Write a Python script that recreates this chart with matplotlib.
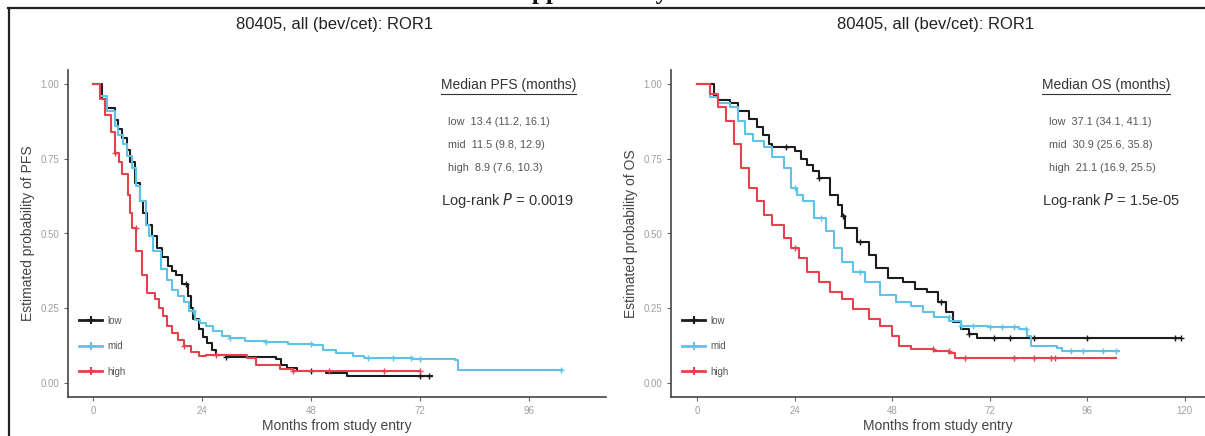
import numpy as np
import matplotlib
matplotlib.use("Agg")
import matplotlib.pyplot as plt
from matplotlib.lines import Line2D

plt.rcParams['font.family'] = ['Liberation Sans', 'DejaVu Sans']

W, H = 1205, 436

groups = ['low', 'mid', 'high']
colors = {'low': '#1c1c1c', 'mid': '#5ec4e6', 'high': '#e4424c'}

# PFS curves (months, survival)
pfs_low_t = [0, 1.9, 3.2, 4.8, 5.6, 6.5, 7.4, 8.2, 9.2, 10.3, 11.1, 12.0, 13.0, 14.1, 15.3, 16.6, 17.4, 18.3, 19.6, 20.9, 21.5, 22.1, 23.4, 24.3, 25.1, 26.2, 27.2, 29.4, 40.4, 41.5, 42.7, 45.0, 51.4, 55.9, 74.6]
pfs_low_s = [1.0, 0.95, 0.92, 0.88, 0.85, 0.82, 0.78, 0.74, 0.67, 0.61, 0.57, 0.53, 0.49, 0.45, 0.42, 0.39, 0.375, 0.36, 0.33, 0.29, 0.25, 0.214, 0.18, 0.155, 0.134, 0.11, 0.095, 0.087, 0.08, 0.06, 0.05, 0.04, 0.033, 0.023, 0.023]
pfs_mid_t = [0, 1.5, 3.1, 4.8, 5.6, 6.6, 7.6, 8.6, 9.4, 10.3, 11.6, 12.4, 13.3, 15.0, 16.2, 17.5, 18.8, 20.0, 21.2, 22.5, 23.6, 25.0, 26.5, 28.4, 30.2, 33.5, 38.2, 43.0, 48.5, 50.7, 53.5, 57.3, 59.7, 70.5, 79.7, 80.5, 103.2]
pfs_mid_s = [1.0, 0.96, 0.91, 0.86, 0.83, 0.80, 0.76, 0.72, 0.66, 0.61, 0.53, 0.49, 0.44, 0.38, 0.345, 0.31, 0.29, 0.27, 0.24, 0.21, 0.20, 0.19, 0.175, 0.157, 0.15, 0.14, 0.137, 0.13, 0.127, 0.11, 0.10, 0.09, 0.085, 0.08, 0.077, 0.044, 0.044]
pfs_high_t = [0, 1.5, 2.7, 4.0, 4.8, 5.7, 6.5, 7.7, 8.2, 8.6, 9.5, 10.7, 12.0, 13.7, 14.5, 15.4, 16.4, 17.5, 18.8, 20.0, 21.6, 23.4, 25.0, 33.9, 36.0, 41.2, 44.0, 72.0]
pfs_high_s = [1.0, 0.95, 0.895, 0.84, 0.77, 0.74, 0.70, 0.63, 0.57, 0.52, 0.44, 0.36, 0.30, 0.28, 0.25, 0.224, 0.19, 0.168, 0.145, 0.124, 0.105, 0.09, 0.094, 0.083, 0.06, 0.047, 0.04, 0.04]
pfs_cens = {'low': [20.5, 29.4, 48.0, 72.0, 74.0],
            'mid': [22.0, 30.2, 38.2, 48.0, 60.6, 66.0, 70.0, 72.0, 103.0],
            'high': [4.8, 9.4, 20.0, 27.0, 44.0, 52.0, 64.0, 72.0]}

# OS curves
os_low_t = [0, 4.3, 5.2, 8.0, 10.0, 12.8, 14.7, 16.2, 17.6, 18.5, 22.3, 24.2, 25.5, 27.0, 28.5, 29.9, 32.7, 34.6, 35.6, 36.5, 39.4, 42.2, 44.1, 47.0, 50.8, 53.6, 56.5, 59.3, 61.2, 63.1, 65.0, 66.9, 68.8, 119.0]
os_low_s = [1.0, 0.96, 0.946, 0.935, 0.91, 0.884, 0.856, 0.83, 0.80, 0.79, 0.79, 0.777, 0.75, 0.73, 0.71, 0.687, 0.63, 0.597, 0.56, 0.518, 0.473, 0.428, 0.383, 0.35, 0.338, 0.315, 0.304, 0.27, 0.236, 0.203, 0.18, 0.163, 0.152, 0.152]
os_mid_t = [0, 3.3, 5.2, 8.0, 10.0, 11.9, 13.8, 16.6, 18.5, 21.3, 23.2, 24.6, 26.1, 28.9, 31.8, 33.7, 35.6, 38.4, 41.3, 45.1, 48.9, 52.7, 55.5, 58.3, 62.1, 65.0, 71.6, 79.2, 81.1, 82.1, 88.7, 89.7, 103.9]
os_mid_s = [1.0, 0.957, 0.935, 0.923, 0.878, 0.833, 0.81, 0.788, 0.755, 0.72, 0.653, 0.63, 0.608, 0.552, 0.507, 0.45, 0.405, 0.372, 0.338, 0.293, 0.27, 0.259, 0.236, 0.22, 0.208, 0.19, 0.186, 0.18, 0.158, 0.124, 0.118, 0.107, 0.107]
os_high_t = [0, 3.3, 5.2, 7.1, 9.0, 10.9, 12.8, 14.7, 16.6, 18.5, 21.3, 23.2, 25.1, 27.0, 29.9, 32.7, 35.6, 38.4, 42.2, 45.1, 47.9, 49.8, 52.7, 58.3, 62.1, 63.6, 103.0]
os_high_s = [1.0, 0.968, 0.923, 0.878, 0.80, 0.72, 0.653, 0.608, 0.563, 0.53, 0.484, 0.45, 0.417, 0.372, 0.338, 0.304, 0.28, 0.248, 0.214, 0.19, 0.158, 0.124, 0.113, 0.107, 0.10, 0.084, 0.084]
os_cens = {'low': [22.0, 30.0, 36.0, 40.0, 60.0, 67.0, 73.0, 77.0, 83.0, 96.0, 117.5, 119.0],
           'mid': [24.0, 30.5, 40.0, 62.0, 65.0, 68.0, 72.0, 75.0, 78.0, 81.0, 92.0, 95.0, 100.0, 103.0],
           'high': [24.0, 58.0, 62.0, 66.0, 78.0, 83.0, 87.0, 88.0]}

x_ticks_pfs = [0, 24, 48, 72, 96]
x_ticks_os = [0, 24, 48, 72, 96, 120]
y_ticks = [0.0, 0.25, 0.5, 0.75, 1.0]

title = '80405, all (bev/cet): ROR1'
pfs_rows = ['low  13.4 (11.2, 16.1)', 'mid  11.5 (9.8, 12.9)', 'high  8.9 (7.6, 10.3)']
os_rows = ['low  37.1 (34.1, 41.1)', 'mid  30.9 (25.6, 35.8)', 'high  21.1 (16.9, 25.5)']


def fx(x):
    return x / W


def fy(y):
    return 1 - y / H


def km(ax, t, s, cens, color):
    t = np.asarray(t)
    s = np.asarray(s)
    ax.step(t, s, where='post', color=color, lw=1.5)
    c = np.asarray(cens)
    idx = np.searchsorted(t, c, side='right') - 1
    ax.plot(c, s[idx], ls='none', marker='+', ms=5, mew=1.0, color=color)


def style(ax, xticks, ylabel):
    for sp in ['top', 'right']:
        ax.spines[sp].set_visible(False)
    for sp in ['left', 'bottom']:
        ax.spines[sp].set_color('#444444')
        ax.spines[sp].set_linewidth(1.2)
    ax.set_xticks(xticks)
    ax.set_yticks(y_ticks)
    ax.set_yticklabels(['%.2f' % v for v in y_ticks])
    ax.tick_params(colors='#666666', labelcolor='#a0a0a0', labelsize=7, length=3, width=0.8)
    ax.set_ylim(-0.047, 1.047)
    ax.set_xlabel('Months from study entry', fontsize=10, color='#444444', labelpad=2)
    ax.set_ylabel(ylabel, fontsize=10, color='#444444', labelpad=4)


fig = plt.figure(figsize=(W / 100, H / 100), dpi=100)

# left panel: PFS
ax1 = fig.add_axes([fx(68), fy(397), fx(606 - 68), (397 - 70) / H])
km(ax1, pfs_low_t, pfs_low_s, pfs_cens['low'], colors['low'])
km(ax1, pfs_mid_t, pfs_mid_s, pfs_cens['mid'], colors['mid'])
km(ax1, pfs_high_t, pfs_high_s, pfs_cens['high'], colors['high'])
ax1.set_xlim(-5.5, 113)
style(ax1, x_ticks_pfs, 'Estimated probability of PFS')

# right panel: OS
ax2 = fig.add_axes([fx(671), fy(397), fx(1205 - 671), (397 - 70) / H])
km(ax2, os_low_t, os_low_s, os_cens['low'], colors['low'])
km(ax2, os_mid_t, os_mid_s, os_cens['mid'], colors['mid'])
km(ax2, os_high_t, os_high_s, os_cens['high'], colors['high'])
ax2.set_xlim(-6.4, 125)
style(ax2, x_ticks_os, 'Estimated probability of OS')

for ax in (ax1, ax2):
    handles = [Line2D([], [], color=colors[g], lw=2.0, marker='+', ms=6, mew=1.5) for g in groups]
    ax.legend(handles, groups, loc='lower left', bbox_to_anchor=(0.005, 0.035), frameon=False,
              fontsize=7, labelspacing=1.6, handlelength=2.3, handletextpad=0.6, labelcolor='#555555')

# titles
fig.text(fx(335), fy(25), title, ha='center', va='center', fontsize=12, color='#222222')
fig.text(fx(936), fy(25), title, ha='center', va='center', fontsize=12, color='#222222')

# median annotations
for x0, head, rows, pval in [(441, 'Median PFS (months)', pfs_rows, '0.0019'),
                             (1042, 'Median OS (months)', os_rows, '1.5e-05')]:
    t = fig.text(fx(x0), fy(85), head, ha='left', va='center', fontsize=10, color='#333333')
    fig.canvas.draw()
    bb = t.get_window_extent()
    fig.add_artist(Line2D([bb.x0 / W, bb.x1 / W], [fy(94), fy(94)], color='#333333', lw=0.8))
    for i, r in enumerate(rows):
        fig.text(fx(x0 + 7), fy(122 + 23 * i), r, ha='left', va='center', fontsize=7.8, color='#555555')
    fig.text(fx(x0), fy(200), 'Log-rank $P$ = ' + pval, ha='left', va='center', fontsize=10.5,
             color='#333333')

# cropped page heading and frame
fig.text(fx(505), fy(-1), 'Supplementary', ha='left', va='baseline', fontsize=18,
         fontweight='bold', family='Liberation Serif', color='#111111')
fig.add_artist(Line2D([fx(8), 1.0], [fy(8), fy(8)], color='#222222', lw=1.6))
fig.add_artist(Line2D([fx(9), fx(9)], [fy(8), 0.0], color='#222222', lw=1.6))

fig.savefig('out.png', dpi=100)
